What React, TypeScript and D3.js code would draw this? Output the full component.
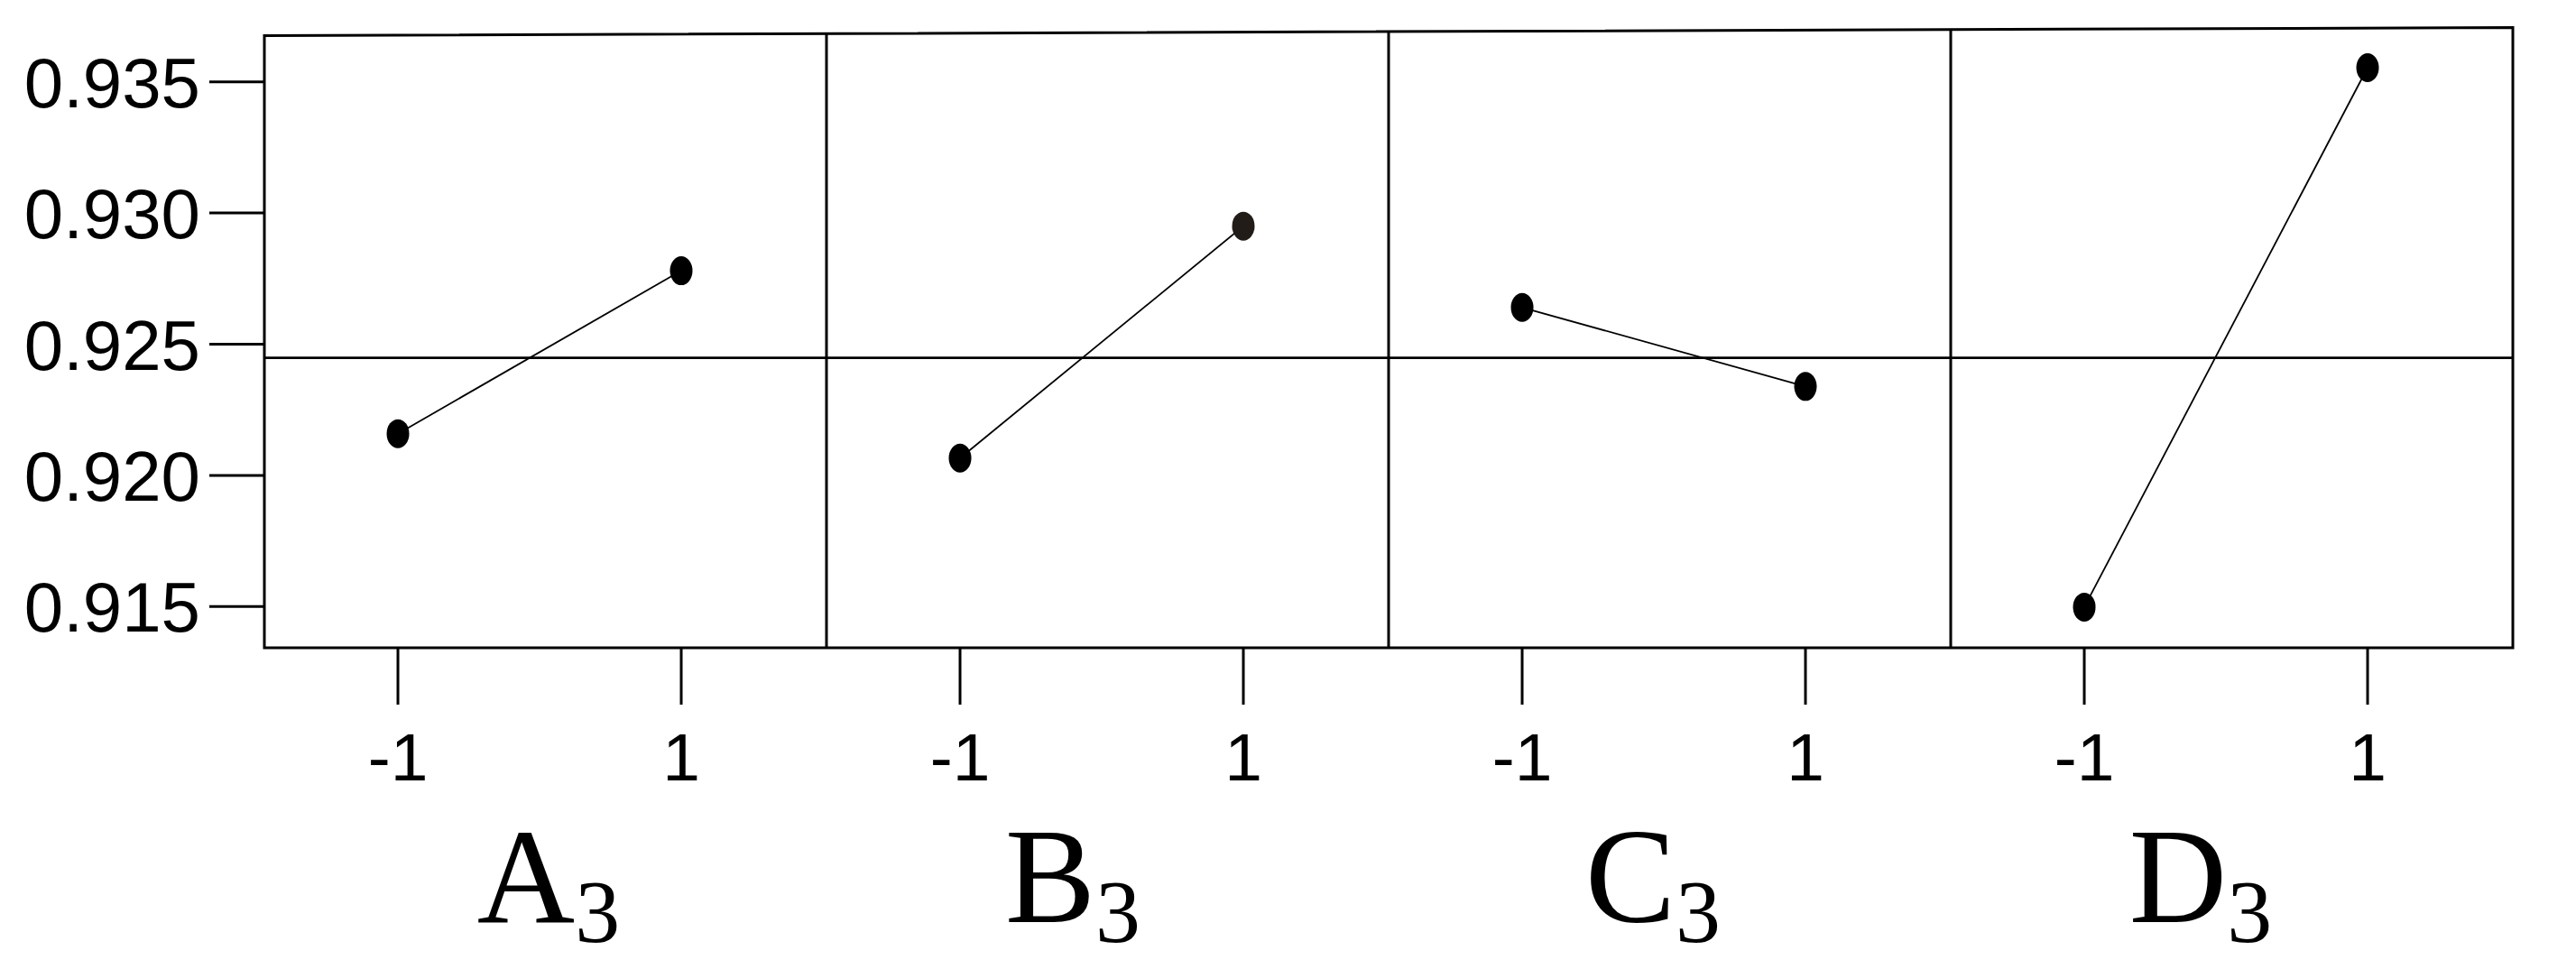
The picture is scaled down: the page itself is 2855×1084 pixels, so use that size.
import React from "react";
import * as d3 from "d3";

// main effects: mean response at the low (-1) and high (1) level of each factor
const factors = ["A", "B", "C", "D"];
const levels = [-1, 1];
const lowMeans = [0.92159, 0.92066, 0.9264, 0.91498];
const highMeans = [0.9278, 0.9295, 0.92339, 0.93554];
const pointColors = [
  ["#000", "#000"],
  ["#000", "#221c18"],
  ["#000", "#000"],
  ["#000", "#000"],
];
const grandMean = 0.92448;
const yTicks = [0.915, 0.92, 0.925, 0.93, 0.935];

const W = 2855;
const H = 1084;
// the box is slightly skewed in the original: top edge rises to the right
const frame = { left: 293, right: 2785, topLeft: 39.5, topRight: 30.5, bottom: 718 };
// factor names are not exactly centred under their panels in the original
const labelNudge = [10, -32, -12, -28];

const sans = "'Liberation Sans', Arial, sans-serif";
const serif = "'Liberation Serif', 'Times New Roman', serif";

export default function App() {
  const y = d3.scaleLinear().domain([0.915, 0.935]).range([672.3, 90.7]);
  const panels = d3.scaleBand().domain(factors).range([frame.left, frame.right]);
  const bw = panels.bandwidth();
  const fmt = d3.format(".3f");

  const topAt = (x: number) =>
    frame.topLeft + ((x - frame.left) / (frame.right - frame.left)) * (frame.topRight - frame.topLeft);

  const line = d3
    .line<[number, number]>()
    .x((d) => d[0])
    .y((d) => d[1]);

  return (
    <>
      <style>{`body{margin:0;overflow:hidden}`}</style>
      <svg width={W} height={H} style={{ display: "block", background: "#fff" }}>
        {/* frame */}
        <path
          d={`M${frame.left},${frame.topLeft}L${frame.right},${frame.topRight}L${frame.right},${frame.bottom}L${frame.left},${frame.bottom}Z`}
          fill="none"
          stroke="#000"
          strokeWidth={3}
        />

        {/* grand mean reference line */}
        <line
          x1={frame.left}
          x2={frame.right}
          y1={y(grandMean)}
          y2={y(grandMean)}
          stroke="#000"
          strokeWidth={2.6}
        />

        {/* y axis */}
        {yTicks.map((t) => (
          <g key={t}>
            <line x1={232} x2={frame.left} y1={y(t)} y2={y(t)} stroke="#000" strokeWidth={3} />
            <text
              x={222}
              y={y(t) + 28}
              textAnchor="end"
              fontFamily={sans}
              fontSize={78}
              fill="#000"
            >
              {fmt(t)}
            </text>
          </g>
        ))}

        {factors.map((f, i) => {
          const x0 = panels(f) as number;
          const x = d3.scaleLinear().domain([-1, 1]).range([x0 + bw * 0.2376, x0 + bw * 0.7416]);
          const means = [lowMeans[i], highMeans[i]];
          const pts: [number, number][] = levels.map((l, j) => [x(l), y(means[j])]);
          return (
            <g key={f}>
              {i > 0 && (
                <line x1={x0} x2={x0} y1={topAt(x0)} y2={frame.bottom} stroke="#000" strokeWidth={3} />
              )}
              <path d={line(pts) || ""} fill="none" stroke="#000" strokeWidth={1.8} />
              {pts.map((p, j) => (
                <ellipse key={j} cx={p[0]} cy={p[1]} rx={12.5} ry={16} fill={pointColors[i][j]} />
              ))}
              {levels.map((l) => (
                <g key={l}>
                  <line x1={x(l)} x2={x(l)} y1={frame.bottom} y2={781} stroke="#000" strokeWidth={3} />
                  <text
                    x={x(l)}
                    y={865}
                    textAnchor="middle"
                    fontFamily={sans}
                    fontSize={75}
                    fill="#000"
                  >
                    {l}
                  </text>
                </g>
              ))}
              <text
                x={(x(-1) + x(1)) / 2 + labelNudge[i]}
                y={1022}
                textAnchor="middle"
                fontFamily={serif}
                fontSize={150}
                fill="#000"
              >
                <tspan>{f}</tspan>
                <tspan fontSize={100} dy={22}>
                  3
                </tspan>
              </text>
            </g>
          );
        })}
      </svg>
    </>
  );
}
